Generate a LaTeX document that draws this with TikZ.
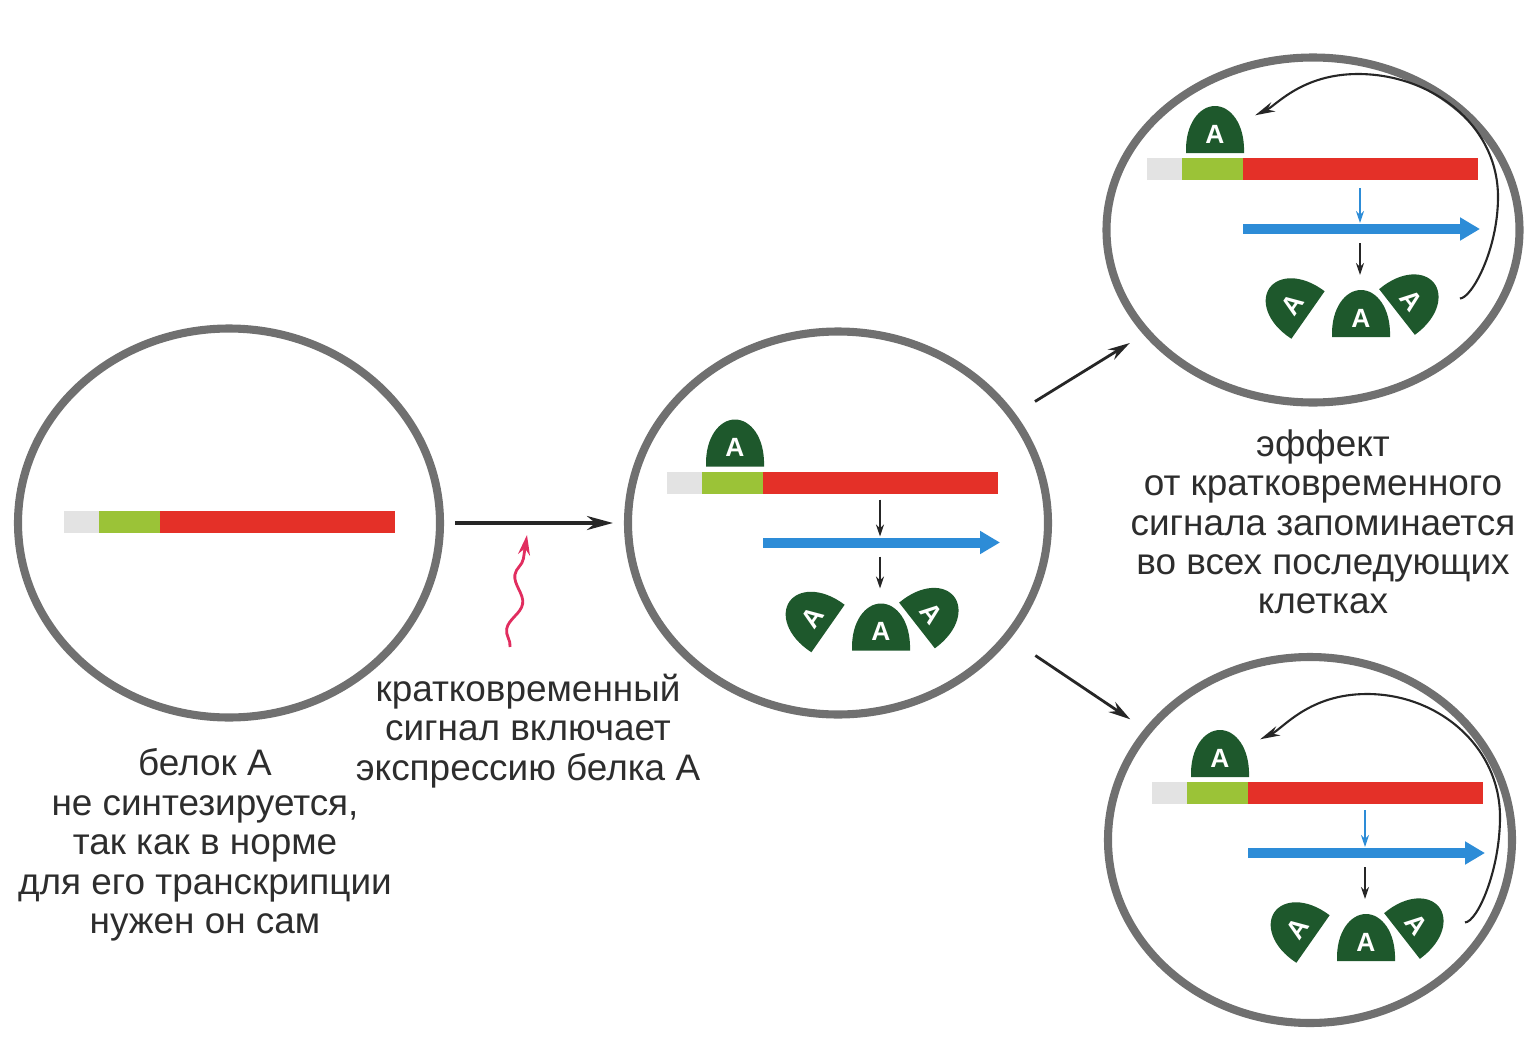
\documentclass[tikz,border=0pt]{standalone}
\usepackage{fontspec}
\setmainfont{Liberation Sans}
\usetikzlibrary{arrows.meta, shapes.geometric, decorations.pathmorphing}
\definecolor{cellgray}{RGB}{112,112,112}
\definecolor{genered}{RGB}{228,48,40}
\definecolor{promgreen}{RGB}{155,195,55}
\definecolor{mrnablue}{RGB}{45,140,215}
\definecolor{protgreen}{RGB}{30,88,44}
\definecolor{signalred}{RGB}{225,45,95}
\definecolor{textgray}{RGB}{45,45,45}

% gene A: regulatory end, promoter, coding part
\newcommand{\geneA}{%
  \fill[black!11] (-0.96,-0.11) rectangle (-0.61,0.11);
  \fill[promgreen] (-0.61,-0.11) rectangle (0,0.11);
  \fill[genered] (0,-0.11) rectangle (2.35,0.11);}

% protein A: name, base point, angle
\newcommand{\protA}[3]{%
  \fill[protgreen, shift={#2}, rotate=#3]
    (-0.29,0) .. controls (-0.30,0.30) and (-0.15,0.47) .. (0,0.47)
    .. controls (0.15,0.47) and (0.30,0.30) .. (0.29,0) -- cycle
    (0,0.19) node[prot, rotate=#3] (#1) {A};}

\begin{document}
\begin{tikzpicture}[
  cell/.style={ellipse, draw=cellgray, line width=2.3pt, inner sep=0pt},
  prot/.style={text=white, inner sep=0pt, font=\fontsize{7.5}{8}\selectfont\bfseries},
  note/.style={align=center, text=textgray, font=\fontsize{10.5}{11.2}\selectfont},
  arr/.style={-{Stealth[length=0.22cm, width=0.12cm]}, line width=0.8pt, black!85},
  tiny/.style={-{Stealth[length=0.12cm, width=0.08cm]}, line width=0.8pt, black!85},
  mrna/.style={-{Triangle[length=0.2cm, width=0.22cm]}, line width=0.1cm, mrnablue},
  loop/.style={-{Stealth[length=0.2cm, width=0.1cm]}, line width=0.6pt, black!85},
  signal/.style={-{Stealth[length=0.2cm, width=0.12cm]}, line width=0.8pt, signalred,
    decorate, decoration={snake, amplitude=0.06cm, segment length=0.55cm, post length=0.2cm}}
]
  \useasboundingbox (0,0) rectangle (15.32,10.38);

  % cells
  \node[cell, minimum width=4.22cm, minimum height=3.89cm] (c1) at (2.29,5.15) {};
  \node[cell, minimum width=4.20cm, minimum height=3.83cm] (c2) at (8.38,5.15) {};
  \node[cell, minimum width=4.13cm, minimum height=3.45cm] (c3) at (13.13,8.08) {};
  \node[cell, minimum width=4.04cm, minimum height=3.66cm] (c4) at (13.10,1.98) {};

  % silent gene
  \begin{scope}[shift={(1.60,5.165)}]
    \geneA
  \end{scope}

  % gene switched on by the signal
  \begin{scope}[shift={(7.63,5.555)}]
    \geneA
    \protA{a2}{(-0.28,0.16)}{0}
    \draw[tiny] (1.17,-0.17) -- (1.17,-0.54);
    \draw[mrna] (0,-0.60) -- (2.37,-0.60);
    \draw[tiny] (1.17,-0.74) -- (1.17,-1.06);
    \protA{a2l}{(0.65,-1.46)}{55}
    \protA{a2m}{(1.18,-1.68)}{0}
    \protA{a2r}{(1.54,-1.43)}{-52}
  \end{scope}

  % daughter cells keep the loop
  \begin{scope}[shift={(12.43,8.69)}]
    \geneA
    \protA{a3}{(-0.28,0.16)}{0}
    \draw[tiny, mrnablue] (1.17,-0.19) -- (1.17,-0.54);
    \draw[mrna] (0,-0.60) -- (2.37,-0.60);
    \draw[tiny] (1.17,-0.74) -- (1.17,-1.06);
    \protA{a3l}{(0.65,-1.46)}{55}
    \protA{a3m}{(1.18,-1.68)}{0}
    \protA{a3r}{(1.54,-1.43)}{-52}
    \draw[loop, shorten <=0.36cm, shorten >=0.33cm]
      (a3r) to[out=10,in=-90] (2.55,-0.28) to[out=90,in=0] (1.15,0.95) to[out=180,in=25] (a3);
  \end{scope}

  \begin{scope}[shift={(12.48,2.45)}]
    \geneA
    \protA{a4}{(-0.28,0.16)}{0}
    \draw[tiny, mrnablue] (1.17,-0.17) -- (1.17,-0.54);
    \draw[mrna] (0,-0.60) -- (2.37,-0.60);
    \draw[tiny] (1.17,-0.74) -- (1.17,-1.06);
    \protA{a4l}{(0.65,-1.46)}{55}
    \protA{a4m}{(1.18,-1.68)}{0}
    \protA{a4r}{(1.54,-1.43)}{-52}
    \draw[loop, shorten <=0.36cm, shorten >=0.33cm]
      (a4r) to[out=10,in=-90] (2.52,-0.24) to[out=90,in=0] (1.19,0.99) to[out=180,in=25] (a4);
  \end{scope}

  % arrows between cells
  \draw[arr, line width=1.1pt, -{Stealth[length=0.26cm, width=0.14cm]},
    shorten <=0.11cm, shorten >=0.11cm] (c1) -- (c2);
  \draw[arr, shorten <=0.23cm, shorten >=0.16cm] (c2) -- (c3);
  \draw[arr, shorten <=0.30cm, shorten >=0.17cm] (c2) -- (c4);

  % short signal
  \coordinate (sigbase) at (5.10,3.91);
  \coordinate (sigtip) at (5.27,5.03);
  \draw[signal] (sigbase) -- (sigtip);

  % captions
  \node[note] (n1) at (2.05,1.93) {белок А\\не синтезируется,\\так как в норме\\для его транскрипции\\нужен он сам};
  \node[note] (n2) at (5.28,3.07) {кратковременный\\сигнал включает\\экспрессию белка А};
  \node[note] (n3) at (13.23,5.16) {эффект\\от кратковременного\\сигнала запоминается\\во всех последующих\\клетках};
\end{tikzpicture}
\end{document}
